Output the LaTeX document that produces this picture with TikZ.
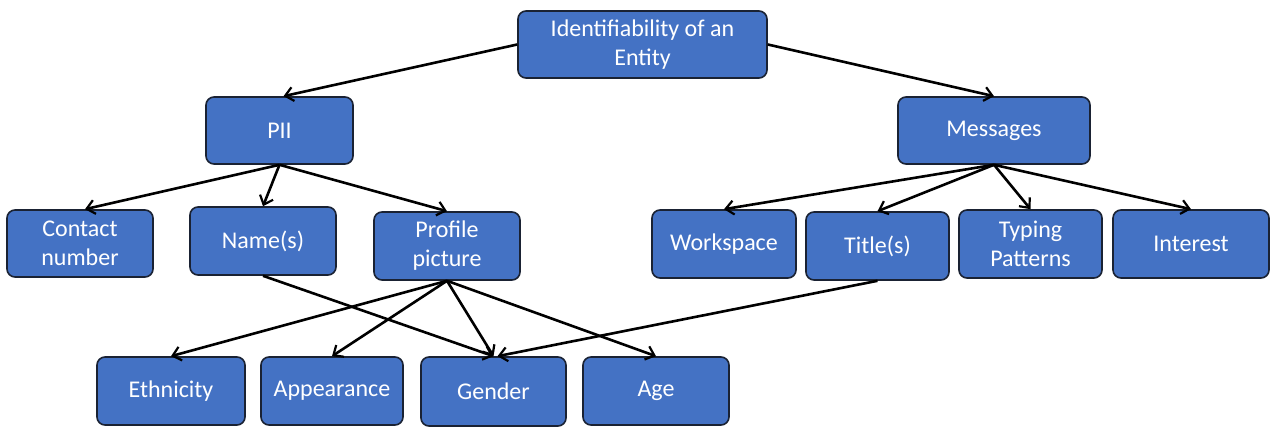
\documentclass[tikz,border=0pt]{standalone}
\usepackage{fontspec}
\setmainfont{Carlito}
\usetikzlibrary{arrows.meta}
\definecolor{boxblue}{HTML}{4472C4}
\definecolor{boxedge}{HTML}{1A2233}
\tikzset{
  box/.style={draw=boxedge, line width=1.6pt, fill=boxblue, rounded corners=8pt,
    text=white, font=\fontsize{24}{29}\selectfont, align=center, inner sep=0pt},
  link/.style={draw=black, line width=2.6pt, -{Straight Barb[length=8pt,width=14pt,line width=2.2pt]}, shorten >=0pt}
}
\begin{document}
\begin{tikzpicture}[x=1pt,y=-1pt]
\useasboundingbox (0,0) rectangle (1282,438);
\newcommand{\boxat}[6]{\node[box, minimum width=#4-#3, minimum height=#6-#5] (#1) at ({(#3+#4)/2},{(#5+#6)/2}) {#2};}
\boxat{top}{Identifiability of an\\Entity}{518}{767}{11}{78}
\boxat{pii}{PII}{206}{353}{97}{164}
\boxat{msg}{Messages}{898}{1090}{97}{164}
\boxat{contact}{Contact\\number}{7}{153}{210}{277}
\boxat{name}{Name(s)}{190}{336}{207}{275}
\boxat{profile}{Profile\\picture}{374}{520}{212}{280}
\boxat{work}{Workspace}{652}{796}{210}{278}
\boxat{title}{Title(s)}{806}{949}{212}{280}
\boxat{typing}{Typing\\Patterns}{959}{1102}{210}{278}
\boxat{interest}{Interest}{1113}{1269}{210}{278}
\boxat{eth}{Ethnicity}{97}{245}{357}{425}
\boxat{app}{Appearance}{261}{403}{357}{425}
\boxat{gender}{Gender}{421}{566}{357}{426}
\boxat{age}{Age}{583}{729}{357}{425}

\draw[link] (top.west) -- ([xshift=4pt]pii.north);
\draw[link] (top.east) -- (msg.north);
\draw[link] (pii.south) -- ([xshift=5pt]contact.north);
\draw[link] (pii.south) -- (name.north);
\draw[link] (pii.south) -- (profile.north);
\draw[link] (msg.south) -- (work.north);
\draw[link] (msg.south) -- (title.north);
\draw[link] (msg.south) -- (typing.north);
\draw[link] (msg.south) -- (interest.north);
\draw[link] (name.south) -- (gender.north);
\draw[link] (profile.south) -- (eth.north);
\draw[link] (profile.south) -- (app.north);
\draw[link] (profile.south) -- (gender.north);
\draw[link] (profile.south) -- (age.north);
\draw[link] (title.south) -- ([xshift=4pt]gender.north);
\end{tikzpicture}
\end{document}
